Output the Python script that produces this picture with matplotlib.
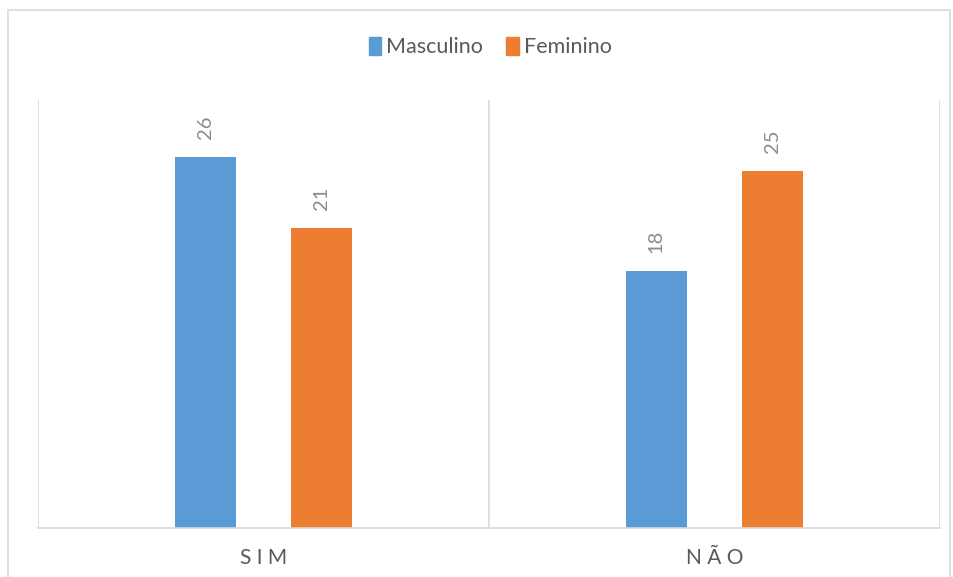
import matplotlib.pyplot as plt
from matplotlib.patches import Rectangle, Patch

categories = ["SIM", "NÃO"]
masculino = [26, 18]
feminino = [21, 25]
series_names = ["Masculino", "Feminino"]

BLUE = "#5B9BD5"
ORANGE = "#ED7D31"
GRID = "#D9D9D9"
TEXT = "#595959"
LABEL = "#8C8C8C"

plt.rcParams["font.family"] = ["Lato", "DejaVu Sans"]

fig = plt.figure(figsize=(9.54, 5.77), dpi=100)
ax = fig.add_axes([38 / 954, 1 - 527.5 / 577, (940 - 38) / 954, (527.5 - 100) / 577])

# outer chart frame
fig.patches.append(Rectangle((8 / 954, -0.01), (950 - 8) / 954, 1 - 10 / 577 + 0.01,
                             transform=fig.transFigure, fill=False,
                             edgecolor=GRID, linewidth=1.2))

x = list(range(len(categories)))
w = 0.135
off = 0.129
b1 = ax.bar([i - off for i in x], masculino, w, color=BLUE)
b2 = ax.bar([i + off for i in x], feminino, w, color=ORANGE)

for bars, vals in ((b1, masculino), (b2, feminino)):
    for r, v in zip(bars, vals):
        ax.annotate(str(v), (r.get_x() + r.get_width() / 2, v),
                    xytext=(0, 13), textcoords="offset points",
                    rotation=90, ha="center", va="bottom",
                    fontsize=14.5, color=LABEL)

ax.set_xlim(-0.5, 1.5)
ax.set_ylim(0, 30)
ax.set_yticks([])
ax.set_xticks(x)
ax.set_xticklabels([" ".join(c) for c in categories], fontsize=15, color=TEXT)
ax.tick_params(axis="x", length=0, pad=15)

# category dividers
for xv in (-0.5, 0.5, 1.5):
    ax.axvline(xv, color=GRID, linewidth=1.2, zorder=0)
for s in ("top", "left", "right"):
    ax.spines[s].set_visible(False)
ax.spines["bottom"].set_color(GRID)
ax.spines["bottom"].set_linewidth(1.2)

handles = [Patch(color=BLUE), Patch(color=ORANGE)]
fig.legend(handles, series_names, loc="center", bbox_to_anchor=(490 / 954, 1 - 47 / 577),
           ncol=2, frameon=False, fontsize=15.5, labelcolor=TEXT,
           handlelength=0.6, handleheight=0.9, handletextpad=0.2, columnspacing=1.1)

fig.savefig("out.png", dpi=100)
